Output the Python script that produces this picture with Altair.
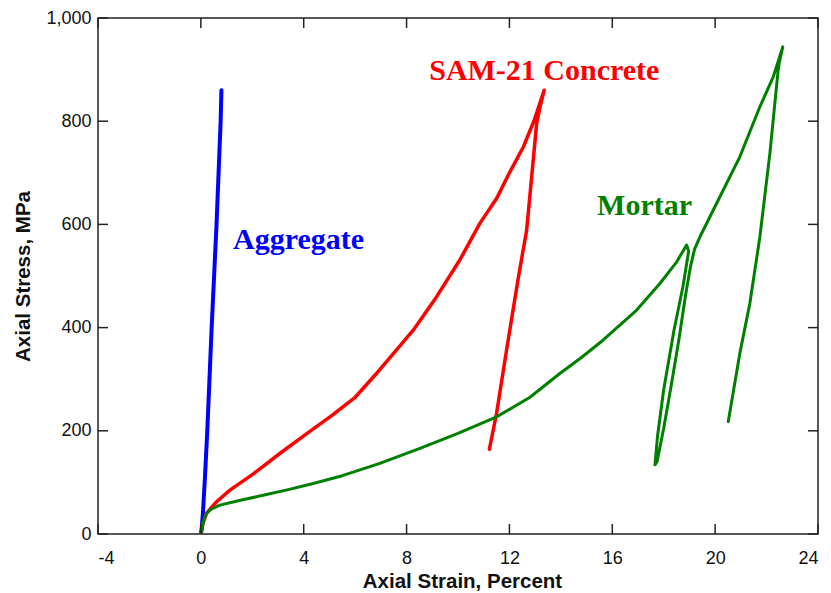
import altair as alt
import pandas as pd

# Stress-strain records (axial strain in percent, axial stress in MPa)
aggregate_strain = [0.0, 0.03, 0.08, 0.16, 0.25, 0.42, 0.61, 0.77, 0.80]
aggregate_stress = [0, 10, 40, 110, 200, 400, 600, 800, 860]

concrete_strain = [0.0, 0.08, 0.22, 0.6, 1.13, 2.0, 3.07, 4.0, 5.1, 6.0, 6.9, 8.26,
                   9.17, 10.07, 10.85, 11.5, 12.0, 12.54, 12.95, 13.35,
                   13.2, 13.06, 12.67, 12.34, 11.89, 11.5, 11.22]
concrete_stress = [0, 20, 40, 62, 85, 115, 156, 190, 230, 265, 315, 395,
                   460, 531, 602, 650, 700, 750, 800, 860,
                   830, 796, 589, 495, 357, 234, 164]

mortar_strain = [0.0, 0.05, 0.12, 0.22, 0.4, 0.74, 1.5, 2.42, 3.4, 4.37, 5.5, 6.96,
                 8.52, 10.0, 11.5, 12.8, 13.96, 14.8, 15.65, 16.95, 17.86, 18.5, 18.89,
                 18.97, 18.75, 18.4, 18.0, 17.76, 17.66,
                 17.74, 18.0, 18.3, 18.6, 18.86, 19.04, 19.2, 19.41, 20.19, 20.96,
                 21.74, 22.26, 22.63,
                 22.5, 22.45, 22.13, 21.74, 21.35, 20.96, 20.51]
mortar_stress = [0, 12, 28, 40, 48, 56, 65, 75, 86, 98, 113, 137,
                 166, 195, 227, 265, 311, 342, 376, 434, 486, 527, 560,
                 548, 480, 395, 280, 190, 134,
                 140, 205, 290, 380, 466, 518, 552, 576, 654, 731,
                 828, 886, 944,
                 915, 899, 738, 576, 447, 350, 218]

materials = ["Aggregate", "SAM-21 Concrete", "Mortar"]
line_colors = ["#0000FF", "#FF0000", "#008000"]
line_widths = [4, 3, 3.5]

label_text = ["Aggregate", "SAM-21 Concrete", "Mortar"]
label_strain = [1.25, 8.88, 15.41]
label_stress = [552, 880, 618]
label_colors = ["#3535C8", "#FF0000", "#008000"]

x_ticks = [-4, 0, 4, 8, 12, 16, 20, 24]
y_ticks = [0, 200, 400, 600, 800, 1000]

W, H = 720, 516

rows = []
for name, xs, ys in zip(materials,
                        [aggregate_strain, concrete_strain, mortar_strain],
                        [aggregate_stress, concrete_stress, mortar_stress]):
    for i, (sx, sy) in enumerate(zip(xs, ys)):
        rows.append({"material": name, "strain": sx, "stress": sy, "i": i})
curves = pd.DataFrame(rows)

labels = pd.DataFrame({"text": label_text, "strain": label_strain, "stress": label_stress})

xscale = alt.Scale(domain=[-4, 24], nice=False, zero=False)
yscale = alt.Scale(domain=[0, 1000], nice=False)

x_axis = alt.Axis(values=x_ticks, title="Axial Strain, Percent",
                  labelExpr="'' + datum.value",
                  labelBaseline="alphabetic", labelPadding=29,
                  titleY=53, titleX=364, titleBaseline="alphabetic")
y_axis = alt.Axis(values=y_ticks, format=",d", title="Axial Stress, MPa",
                  labelPadding=7, titleX=-69, titleY=258,
                  titleBaseline="alphabetic")

lines = alt.Chart(curves).mark_line(strokeJoin="round", strokeCap="round", clip=True).encode(
    x=alt.X("strain:Q", scale=xscale, axis=x_axis),
    y=alt.Y("stress:Q", scale=yscale, axis=y_axis),
    color=alt.Color("material:N", scale=alt.Scale(domain=materials, range=line_colors), legend=None),
    strokeWidth=alt.StrokeWidth("material:N", scale=alt.Scale(domain=materials, range=line_widths), legend=None),
    order="i:Q",
)

text = alt.Chart(labels).mark_text(
    align="left", baseline="alphabetic", font="Liberation Serif",
    fontWeight="bold", fontSize=30,
).encode(
    x=alt.X("strain:Q", scale=xscale, axis=x_axis),
    y=alt.Y("stress:Q", scale=yscale, axis=y_axis),
    text="text:N",
    color=alt.Color("text:N", scale=alt.Scale(domain=label_text, range=label_colors), legend=None),
)

xt = pd.DataFrame({"v": x_ticks})
yt = pd.DataFrame({"v": y_ticks})
tick_style = dict(color="#222222", strokeWidth=1.5)

# inward-pointing ticks on all four sides of the frame
bottom_ticks = alt.Chart(xt).mark_rule(**tick_style).encode(
    x=alt.X("v:Q", scale=xscale, axis=x_axis), y=alt.value(H), y2=alt.value(H - 10))
top_ticks = alt.Chart(xt).mark_rule(**tick_style).encode(
    x=alt.X("v:Q", scale=xscale, axis=x_axis), y=alt.value(0), y2=alt.value(10))
left_ticks = alt.Chart(yt).mark_rule(**tick_style).encode(
    y=alt.Y("v:Q", scale=yscale, axis=y_axis), x=alt.value(0), x2=alt.value(10))
right_ticks = alt.Chart(yt).mark_rule(**tick_style).encode(
    y=alt.Y("v:Q", scale=yscale, axis=y_axis), x=alt.value(W), x2=alt.value(W - 10))

chart = alt.layer(lines, text, bottom_ticks, top_ticks, left_ticks, right_ticks).properties(
    width=W, height=H,
    autosize=alt.AutoSizeParams(type="none"),
    padding={"left": 98, "top": 18, "right": 13, "bottom": 59},
    background="white",
).configure_view(
    stroke="#222222", strokeWidth=1.5,
).configure_axis(
    domain=False, ticks=False, tickSize=0, grid=False,
    labelFont="Liberation Sans", labelFontSize=18, labelColor="#111111",
    titleFont="Liberation Sans", titleFontSize=20.5, titleFontWeight="bold",
    titleColor="#111111",
)

chart.save("out.html", embed_options={"renderer": "svg", "actions": False})
